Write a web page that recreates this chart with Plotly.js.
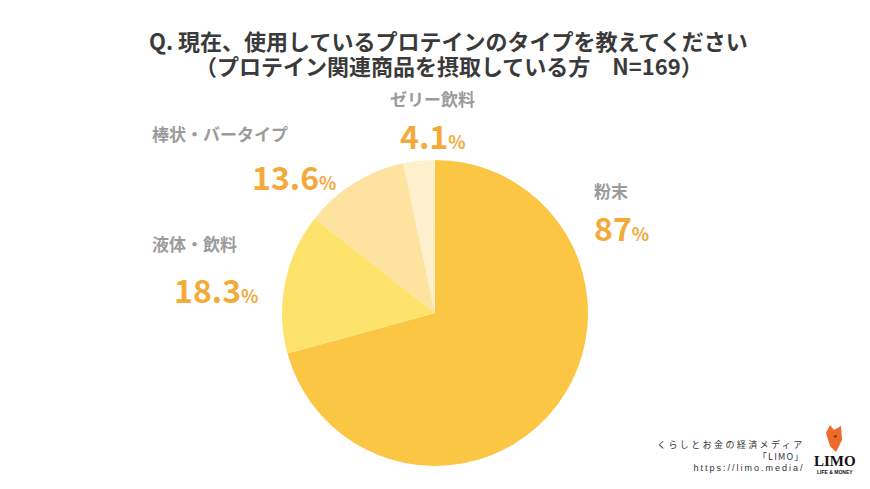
<!DOCTYPE html>
<html>
<head>
<meta charset="utf-8">
<script src="https://cdn.plot.ly/plotly-3.0.1.min.js"></script>
<style>
html,body{margin:0;padding:0;background:#fff;}
#chart{width:870px;height:489px;}
</style>
</head>
<body>
<div id="chart"></div>
<script>
// ---- data ----
const categories = ['粉末', '液体・飲料', '棒状・バータイプ', 'ゼリー飲料'];
const values = [87, 18.3, 13.6, 4.1];
const valueLabels = ['87', '18.3', '13.6', '4.1'];
const titleLines = ['Q. 現在、使用しているプロテインのタイプを教えてください', '（プロテイン関連商品を摂取している方　N=169）'];
const sourceLines = ['くらしとお金の経済メディア', '「LIMO」', 'https://limo.media/'];

// ---- styling ----
const W = 870, H = 489;
const px = x => x / W;
const py = y => 1 - y / H;
const sliceColors = ['#FCC645', '#FDE36C', '#FDE2A0', '#FEF0CC'];
const JP = '"Noto Sans CJK JP", "Noto Sans", sans-serif';
const gray = '#9B9B9B';
const orange = '#F4AA3A';

// label placement (pixel positions in the picture)
const labelPos = [
  {lx: 592, ly: 190, vx: 592, vy: 227},
  {lx: 150, ly: 243, vx: 172, vy: 289},
  {lx: 150, ly: 133, vx: 250, vy: 176},
  {lx: 388, ly: 98,  vx: 398, vy: 135}
];

const annotations = [];

// title lines
const titleY = [40, 65];
titleLines.forEach((t, i) => {
  annotations.push({
    text: '<b>' + t + '</b>', x: px(449), y: py(titleY[i]), xref: 'paper', yref: 'paper',
    xanchor: 'center', yanchor: 'middle', showarrow: false, borderpad: 0,
    font: {family: JP, size: 22, color: '#3A3A3A'}
  });
});

categories.forEach((c, i) => {
  const p = labelPos[i];
  annotations.push({
    text: '<b>' + c + '</b>', x: px(p.lx), y: py(p.ly), xref: 'paper', yref: 'paper',
    xanchor: 'left', yanchor: 'middle', showarrow: false,
    font: {family: JP, size: 17, color: gray}
  });
  annotations.push({
    text: '<b>' + valueLabels[i] + '<span style="font-size:18px">%</span></b>',
    x: px(p.vx), y: py(p.vy), xref: 'paper', yref: 'paper',
    xanchor: 'left', yanchor: 'middle', showarrow: false,
    font: {family: JP, size: 32, color: orange}
  });
});

// source block (one multi-line text)
annotations.push({
  text: '<span style="letter-spacing:2.4px">' + sourceLines[0] + '</span><br>' +
        '<span style="letter-spacing:1.2px">' + sourceLines[1] + '</span><br>' +
        '<span style="letter-spacing:2px;font-family:Liberation Sans, sans-serif">' + sourceLines[2] + '</span>',
  x: px(806), y: py(455), xref: 'paper', yref: 'paper',
  xanchor: 'right', yanchor: 'middle', align: 'right', showarrow: false, borderpad: 0,
  font: {family: JP, size: 9, color: '#333'}
});
// logo text
annotations.push({
  text: '<b>LIMO</b>', x: px(835), y: py(461), xref: 'paper', yref: 'paper',
  xanchor: 'center', yanchor: 'middle', showarrow: false, borderpad: 0,
  font: {family: '"Liberation Serif", "DejaVu Serif", serif', size: 15, color: '#111'}
});
annotations.push({
  text: '<b>LIFE & MONEY</b>', x: px(835), y: py(472), xref: 'paper', yref: 'paper',
  xanchor: 'center', yanchor: 'middle', showarrow: false, borderpad: 0,
  font: {family: '"Liberation Sans", sans-serif', size: 5, color: '#111'}
});

// logo icon (decoration)
const toPath = pts => 'M ' + pts.map(p => px(p[0]).toFixed(5) + ' ' + py(p[1]).toFixed(5)).join(' L ') + ' Z';
const iconPath = toPath([[826,433],[830,425],[834,430],[841,426],[842,440],[836,452],[830,446]]);
const eyePath = toPath([[833,436],[837,435],[836,438]]);

const trace = {
  type: 'pie',
  labels: categories,
  values: values,
  sort: false,
  direction: 'clockwise',
  rotation: 0,
  textinfo: 'none',
  hoverinfo: 'label+value',
  marker: {colors: sliceColors, line: {width: 0}},
  domain: {x: [px(282), px(588)], y: [py(466), py(160)]},
  showlegend: false
};

const layout = {
  width: W, height: H,
  margin: {l: 0, r: 0, t: 0, b: 0},
  paper_bgcolor: '#fff',
  plot_bgcolor: '#fff',
  annotations: annotations,
  shapes: [
    {type: 'path', xref: 'paper', yref: 'paper', path: iconPath, fillcolor: '#EE6A2A', line: {width: 0}},
    {type: 'path', xref: 'paper', yref: 'paper', path: eyePath, fillcolor: '#7A2A10', line: {width: 0}}
  ],
  showlegend: false
};

Plotly.newPlot('chart', [trace], layout, {displayModeBar: false, staticPlot: true});
</script>
</body>
</html>
